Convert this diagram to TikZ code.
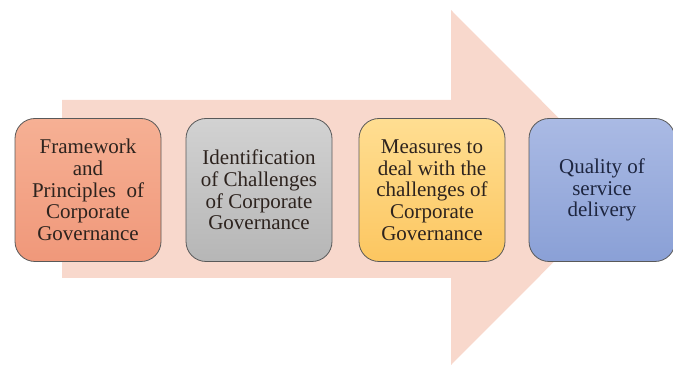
\documentclass[tikz,border=0pt]{standalone}
\usepackage{fontspec}
\setmainfont{Liberation Serif}
\newfontfamily\stagefont{Liberation Serif}
\begin{document}
\begin{tikzpicture}[x=1pt,y=-1pt,
  stagebox/.style={draw=black!65, line width=0.8pt, rounded corners=20pt,
    minimum width=146pt, minimum height=143pt, align=center,
    inner sep=2pt, font=\stagefont\fontsize{21}{21.7}\selectfont},
  stageA/.style={stagebox, top color=salmonA, bottom color=salmonB, text=textA},
  stageB/.style={stagebox, top color=grayA, bottom color=grayB, text=textA},
  stageC/.style={stagebox, top color=goldA, bottom color=goldB, text=textA},
  stageD/.style={stagebox, top color=blueA, bottom color=blueB, text=textD}]
\definecolor{arrowpink}{RGB}{248,216,204}
\definecolor{salmonA}{RGB}{246,176,148}
\definecolor{salmonB}{RGB}{240,152,122}
\definecolor{grayA}{RGB}{210,210,210}
\definecolor{grayB}{RGB}{182,182,182}
\definecolor{goldA}{RGB}{255,222,146}
\definecolor{goldB}{RGB}{252,198,96}
\definecolor{blueA}{RGB}{170,186,228}
\definecolor{blueB}{RGB}{138,160,214}
\definecolor{textA}{RGB}{45,35,30}
\definecolor{textD}{RGB}{30,38,64}
\useasboundingbox (0,0) rectangle (673,366);
% background block arrow
\fill[arrowpink] (62,100) -- (451,100) -- (451,10) -- (628,187.5)
  -- (451,365) -- (451,278) -- (62,278) -- cycle;
% process stages
\node[stageA] (s1) at (88,190)
  {Framework\\and\\Principles~ of\\Corporate\\Governance};
\node[stageB] (s2) at (259,190)
  {Identification\\of Challenges\\of Corporate\\Governance};
\node[stageC] (s3) at (432,190)
  {Measures to\\deal with the\\challenges of\\Corporate\\Governance};
\node[stageD] (s4) at (602,190)
  {Quality of\\service\\delivery};
\end{tikzpicture}
\end{document}
